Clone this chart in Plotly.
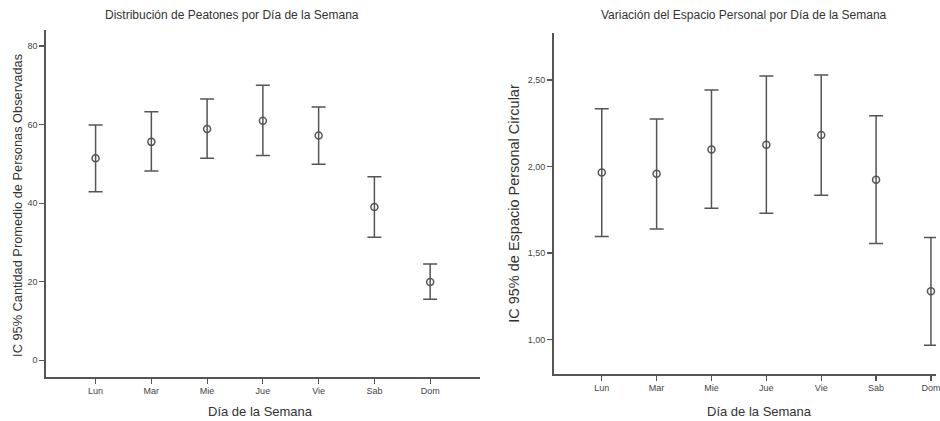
import plotly.graph_objects as go

dias = ["Lun", "Mar", "Mie", "Jue", "Vie", "Sab", "Dom"]

# Left chart: pedestrians
peatones_media = [51.4, 55.6, 58.9, 61.0, 57.2, 39.0, 19.9]
peatones_sup = [59.9, 63.3, 66.5, 70.0, 64.5, 46.7, 24.5]
peatones_inf = [42.9, 48.2, 51.4, 52.1, 49.9, 31.3, 15.5]

# Right chart: personal space
espacio_media = [1.965, 1.958, 2.098, 2.126, 2.182, 1.923, 1.279]
espacio_sup = [2.334, 2.274, 2.442, 2.523, 2.529, 2.293, 1.589]
espacio_inf = [1.595, 1.638, 1.759, 1.730, 1.834, 1.554, 0.966]

y1_ticks = [0, 20, 40, 60, 80]
y1_text = ["0", "20", "40", "60", "80"]
y2_ticks = [1.0, 1.5, 2.0, 2.5]
y2_text = ["1,00", "1,50", "2,00", "2,50"]

W, H = 940, 421
LINE = "#555555"
TXT = "#333333"
FONT = "Liberation Sans, Arial, sans-serif"

xpos = list(range(len(dias)))

def trace(mean, up, lo, xa, ya):
    return go.Scatter(
        x=xpos, y=mean, mode="markers", xaxis=xa, yaxis=ya,
        marker=dict(symbol="circle-open", size=7, color=LINE, line=dict(width=1.5, color=LINE)),
        error_y=dict(type="data", symmetric=False,
                     array=[u - m for u, m in zip(up, mean)],
                     arrayminus=[m - l for m, l in zip(mean, lo)],
                     color=LINE, thickness=1.5, width=7),
        showlegend=False, hoverinfo="skip", cliponaxis=False,
    )

fig = go.Figure()
fig.add_trace(trace(peatones_media, peatones_sup, peatones_inf, "x", "y"))
fig.add_trace(trace(espacio_media, espacio_sup, espacio_inf, "x2", "y2"))

def px_x(p):
    return p / W

def px_y(p):
    return 1 - p / H

axis_common = dict(showline=True, linecolor=LINE, linewidth=1.5, ticks="outside",
                   ticklen=5, tickwidth=1.2, tickcolor=LINE, showgrid=False, zeroline=False,
                   ticklabeloverflow="allow",
                   tickfont=dict(size=9, color="#444444", family=FONT))

fig.update_layout(
    width=W, height=H, margin=dict(l=0, r=0, t=0, b=0),
    plot_bgcolor="white", paper_bgcolor="white",
    font=dict(family=FONT, color=TXT),
    xaxis=dict(domain=[px_x(46), px_x(482)], range=[-0.893, 6.893], anchor="y",
               tickvals=xpos, ticktext=dias, **axis_common),
    yaxis=dict(domain=[px_y(377), px_y(30)], range=[-4.3, 84.1], anchor="x",
               tickvals=y1_ticks, ticktext=y1_text, **axis_common),
    xaxis2=dict(domain=[px_x(556), 1.0], range=[-0.877, 6.092], anchor="y2",
                tickvals=xpos, ticktext=dias, **axis_common),
    yaxis2=dict(domain=[px_y(374), px_y(33)], range=[0.80, 2.772], anchor="x2",
                tickvals=y2_ticks, ticktext=y2_text, **axis_common),
)

ann = [
    dict(text="Distribución de Peatones por Día de la Semana", x=px_x(233), y=px_y(15), size=12, angle=0),
    dict(text="Variación del Espacio Personal por Día de la Semana", x=px_x(747), y=px_y(15), size=12, angle=0),
    dict(text="IC 95% Cantidad Promedio de Personas Observadas", x=px_x(17), y=px_y(205), size=12.8, angle=-90),
    dict(text="IC 95% de Espacio Personal Circular", x=px_x(516), y=px_y(203), size=14.5, angle=-90),
    dict(text="Día de la Semana", x=px_x(262), y=px_y(411), size=13, angle=0),
    dict(text="Día de la Semana", x=px_x(763), y=px_y(411), size=13, angle=0),
]
for a in ann:
    fig.add_annotation(text=a["text"], x=a["x"], y=a["y"], xref="paper", yref="paper",
                       xanchor="center", yanchor="middle", showarrow=False, textangle=a["angle"],
                       font=dict(size=a["size"], color=TXT, family=FONT))

fig.write_html("out.html", config={"displayModeBar": False, "staticPlot": True})

# remove the default page margin so the figure sits at the window's top-left corner
with open("out.html", "r", encoding="utf-8") as f:
    html = f.read()
html = html.replace("<head>", "<head><style>html,body{margin:0;padding:0;overflow:hidden;}</style>", 1)
with open("out.html", "w", encoding="utf-8") as f:
    f.write(html)
